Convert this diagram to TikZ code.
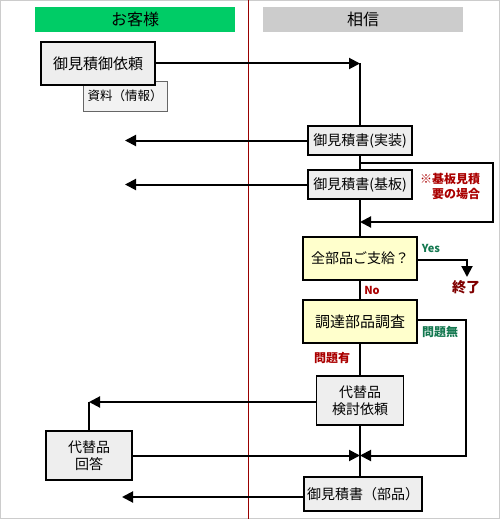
\documentclass[tikz,border=0pt]{standalone}
\usepackage{fontspec}
\setmainfont{Noto Sans CJK JP}
\usepackage{xcolor}
\usetikzlibrary{arrows.meta,calc}

\definecolor{hdrgreen}{RGB}{0,204,102}
\definecolor{hdrgray}{RGB}{204,204,204}
\definecolor{boxgray}{RGB}{238,238,238}
\definecolor{boxyellow}{RGB}{255,255,204}
\definecolor{txtred}{RGB}{170,0,0}
\definecolor{txtgreen}{RGB}{20,120,80}
\definecolor{endred}{RGB}{128,0,0}
\newcommand{\fs}[2]{\fontsize{#1}{#2}\selectfont}

\begin{document}
\begin{tikzpicture}[x=1pt, y=-1pt,
  hdr/.style={rectangle, minimum width=200pt, minimum height=25pt, inner sep=0pt, font=\fs{16}{19}},
  act/.style={rectangle, draw=black, line width=1.2pt, fill=boxgray, inner sep=0pt, align=center, font=\fs{14}{17}},
  ask/.style={act, fill=boxyellow},
  memo/.style={rectangle, draw=black!60, line width=1pt, fill=black!5, inner sep=0pt, font=\fs{12.5}{15}},
  note/.style={inner sep=0pt, font=\bfseries\fs{12}{15}},
  wire/.style={draw, line width=2pt},
  line/.style={draw, line width=2pt, -{Triangle[length=11pt, width=11pt]}}]

  \useasboundingbox (0,0) rectangle (500,519);
  \draw [black!20, line width=1pt] (0.5,0.5) rectangle (499.5,518.5);
  \draw [red!60!black, line width=1pt] (248.5,0) -- (248.5,519);

  % lane headers
  \node [hdr, fill=hdrgreen] (lane1) at (135,19.5) {お客様};
  \node [hdr, fill=hdrgray] (lane2) at (363,19.5) {相信};

  % customer side
  \node [memo, minimum width=84pt, minimum height=30pt] (shiryo) at (125,96) {資料（情報）};
  \node [act, minimum width=114pt, minimum height=43pt, font=\fs{15}{18}] (irai) at (98,63.5) {御見積御依頼};
  \node [act, minimum width=86pt, minimum height=49pt] (kaitou) at (89,455.5) {代替品\\回答};

  % our side
  \node [act, minimum width=104pt, minimum height=29pt] (jisso) at (360,140.5) {御見積書(実装)};
  \node [act, minimum width=104pt, minimum height=29pt] (kiban) at (360,184.5) {御見積書(基板)};
  \node [ask, minimum width=114pt, minimum height=43pt] (shikyu) at (360,258.5) {全部品ご支給？};
  \node [ask, minimum width=114pt, minimum height=43pt, font=\fs{15}{18}] (chotatsu) at (360,321.5) {調達部品調査};
  \node [act, minimum width=87pt, minimum height=49pt] (kentou) at (360,400.5) {代替品\\検討依頼};
  \node [act, minimum width=118pt, minimum height=34pt] (buhin) at (363,494) {御見積書（部品）};

  % free ends
  \coordinate (c1) at (360,63.5);
  \coordinate (o1) at (125,140.5);
  \coordinate (o2) at (125,184.5);
  \coordinate (b1) at (360,163);
  \coordinate (b2) at (360,222);
  \coordinate (fin) at (467,277);
  \coordinate (m1) at (360,455.5);
  \coordinate (k1) at (89,402);
  \coordinate (o3) at (122,497);

  % labels
  \node [note, text=txtred, align=right] (bnote) at (450,186) {※基板見積\\要の場合};
  \node [note, text=txtgreen, font=\bfseries\fs{11}{13}] (yes) at (431,248) {Yes};
  \node [note, text=endred, font=\bfseries\fs{14}{17}] (owari) at (466,287) {終了};
  \node [note, text=txtred, font=\bfseries\fs{11}{13}] (no) at (372,290) {No};
  \node [note, text=txtred] (ari) at (332,358) {問題有};
  \node [note, text=txtgreen] (nashi) at (440,332) {問題無};

  % spine
  \path [line] (irai.east) -- (c1);
  \path [wire] (c1) -- (jisso);
  \path [wire] (jisso) -- (kiban);
  \path [wire] (kiban) -- (shikyu);
  \path [wire] (shikyu) -- (chotatsu);
  \path [wire] (chotatsu) -- (kentou);
  \path [wire] (kentou) -- (m1);
  \path [wire] (m1) -- (buhin.north -| m1);

  % branches
  \path [line] (b1) -- ++(133,0) |- (b2);
  \path [line] (shikyu.east |- 0,260) -| (fin);
  \path [line] (chotatsu.east |- 0,320) -| (466,455.5) -- (m1);
  \path [line] (kaitou.east) -- (m1);
  \path [line] (kentou.west |- k1) -- (k1);
  \path [wire] (kaitou.north) -- (k1);

  % replies to customer
  \path [line] (jisso.west) -- (o1);
  \path [line] (kiban.west) -- (o2);
  \path [line] (buhin.west |- o3) -- (o3);
\end{tikzpicture}
\end{document}
